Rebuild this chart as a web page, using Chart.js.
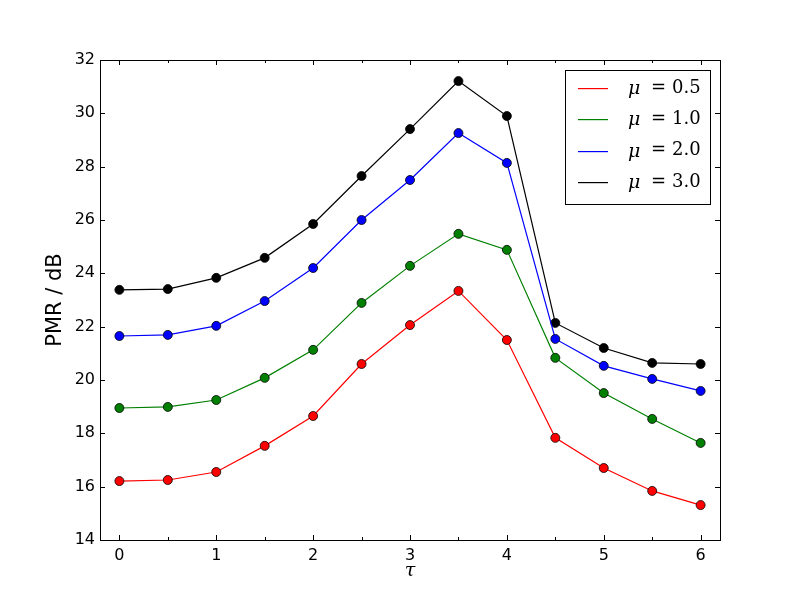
<!DOCTYPE html>
<html>
<head>
<meta charset="utf-8">
<script src="https://cdn.jsdelivr.net/npm/chart.js@4/dist/chart.umd.min.js"></script>
<style>
    html, body { margin: 0; padding: 0; background: #fff; }
    #wrap { width: 800px; height: 600px; }
</style>
</head>
<body>
<div id="wrap"><canvas id="c" width="800" height="600"></canvas></div>
<script>
const tau = [0, 0.5, 1, 1.5, 2, 2.5, 3, 3.5, 4, 4.5, 5, 5.5, 6];

const mu05 = [16.21, 16.25, 16.55, 17.53, 18.65, 20.60, 22.06, 23.34, 21.50, 17.83, 16.70, 15.84, 15.31];
const mu10 = [18.95, 18.99, 19.25, 20.08, 21.13, 22.89, 24.28, 25.48, 24.88, 20.83, 19.51, 18.54, 17.64];
const mu20 = [21.65, 21.69, 22.03, 22.96, 24.20, 26.00, 27.50, 29.26, 28.14, 21.54, 20.53, 20.04, 19.59];
const mu30 = [23.38, 23.41, 23.83, 24.58, 25.85, 27.65, 29.41, 31.21, 29.90, 22.14, 21.20, 20.64, 20.60];

const seriesLabels = ["0.5", "1.0", "2.0", "3.0"];
const seriesColors = ["#ff0000", "#008000", "#0000ff", "#000000"];
const seriesValues = [mu05, mu10, mu20, mu30];

const yTicks = [14, 16, 18, 20, 22, 24, 26, 28, 30, 32];
const xTicks = [0, 1, 2, 3, 4, 5, 6];
const xMinorTicks = [0.5, 1.5, 2.5, 3.5, 4.5, 5.5];

/**
 * 데이터셋 생성
 */
function makeDataset(values, label, color) {
    return {
        label: label,
        data: values.map((v, i) => ({ x: tau[i], y: v })),
        borderColor: color,
        backgroundColor: color,
        borderWidth: 1.2,
        pointRadius: 4.5,
        pointHoverRadius: 4.5,
        pointBorderColor: "#000",
        pointBorderWidth: 0.8,
        tension: 0,
    };
}

// 안쪽 눈금 + 테두리 (matplotlib 스타일)
const frameTicks = {
    id: "frameTicks",
    afterDatasetsDraw(chart) {
        const { ctx, chartArea: a, scales } = chart;
        ctx.save();
        ctx.strokeStyle = "#000";
        ctx.lineWidth = 1;
        ctx.beginPath();
        yTicks.forEach(v => {
            const y = Math.round(scales.y.getPixelForValue(v)) + 0.5;
            ctx.moveTo(a.left, y); ctx.lineTo(a.left + 5, y);
            ctx.moveTo(a.right, y); ctx.lineTo(a.right - 5, y);
        });
        xTicks.forEach(v => {
            const x = Math.round(scales.x.getPixelForValue(v)) + 0.5;
            ctx.moveTo(x, a.bottom); ctx.lineTo(x, a.bottom - 5);
            ctx.moveTo(x, a.top); ctx.lineTo(x, a.top + 5);
        });
        xMinorTicks.forEach(v => {
            const x = Math.round(scales.x.getPixelForValue(v)) + 0.5;
            ctx.moveTo(x, a.bottom); ctx.lineTo(x, a.bottom - 3);
            ctx.moveTo(x, a.top); ctx.lineTo(x, a.top + 3);
        });
        ctx.stroke();
        ctx.strokeRect(Math.round(a.left) + 0.5, Math.round(a.top) + 0.5,
            Math.round(a.right - a.left), Math.round(a.bottom - a.top));
        ctx.restore();
    }
};

// 범례 (차트 안쪽 오른쪽 위)
const boxLegend = {
    id: "boxLegend",
    afterDraw(chart) {
        const { ctx, chartArea: a } = chart;
        const bx = Math.round(a.right - 155), by = Math.round(a.top + 10), bw = 145, bh = 134;
        ctx.save();
        ctx.fillStyle = "#fff";
        ctx.fillRect(bx, by, bw, bh);
        ctx.strokeStyle = "#000";
        ctx.lineWidth = 1;
        ctx.strokeRect(bx + 0.5, by + 0.5, bw, bh);
        ctx.textBaseline = "middle";
        seriesLabels.forEach((lab, i) => {
            const y = by + 18 + i * 31.3;
            ctx.fillStyle = seriesColors[i];
            ctx.fillRect(bx + 13, Math.round(y), 30, 1.2);
            ctx.fillStyle = "#000";
            ctx.font = "italic 19px 'DejaVu Serif'";
            ctx.fillText("μ", bx + 63, y + 1);
            ctx.font = "18px 'DejaVu Serif'";
            ctx.fillText("=", bx + 86, y);
            ctx.fillText(lab, bx + 107, y);
        });
        ctx.restore();
    }
};

new Chart(document.getElementById("c"), {
    type: "line",
    data: {
        datasets: seriesValues.map((vals, i) => makeDataset(vals, "μ = " + seriesLabels[i], seriesColors[i]))
    },
    options: {
        animation: false,
        responsive: false,
        events: [],
        layout: { padding: { left: 39, right: 80, top: 60, bottom: 18 } },
        plugins: {
            legend: { display: false },
            tooltip: { enabled: false },
        },
        scales: {
            x: {
                type: "linear",
                min: -0.2,
                max: 6.2,
                afterFit(scale) { scale.height = 42; },
                afterBuildTicks(scale) { scale.ticks = xTicks.map(v => ({ value: v })); },
                grid: { display: false, drawTicks: false },
                border: { display: false },
                ticks: {
                    color: "#000",
                    font: { family: "DejaVu Sans", size: 16 },
                    padding: 6,
                    maxRotation: 0,
                },
                title: {
                    display: true,
                    text: "τ",
                    color: "#000",
                    font: { family: "DejaVu Serif", size: 19, style: "italic" },
                    padding: { top: 0, bottom: 0 },
                },
            },
            y: {
                min: 14,
                max: 32,
                afterFit(scale) { scale.width = 61; },
                afterBuildTicks(scale) { scale.ticks = yTicks.map(v => ({ value: v })); },
                grid: { display: false, drawTicks: false },
                border: { display: false },
                ticks: {
                    color: "#000",
                    font: { family: "DejaVu Sans", size: 16 },
                    padding: 5,
                },
                title: {
                    display: true,
                    text: "PMR / dB",
                    color: "#000",
                    font: { family: "DejaVu Sans", size: 21 },
                    padding: { top: 4, bottom: 0 },
                },
            }
        }
    },
    plugins: [frameTicks, boxLegend]
});
</script>
</body>
</html>
